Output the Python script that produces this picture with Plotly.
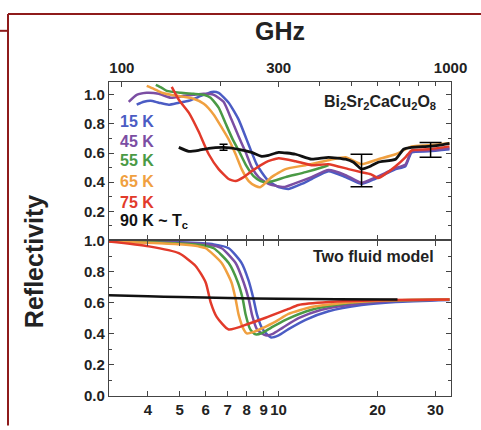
import plotly.graph_objects as go

# ---------------- data (x in cm^-1, y = reflectivity) ----------------
# Top panel: measured Bi2Sr2CaCu2O8
top_15K_x = [3.70, 3.89, 4.08, 4.32, 4.63, 4.97, 5.33, 5.71, 6.26, 6.57, 7.05, 7.56, 7.99, 8.28, 8.57, 8.88, 9.32, 10.0, 10.72, 11.75, 12.60, 14.19, 15.98, 17.88, 19.6, 21.1, 22.7, 24.3, 25.4, 28.6, 33.1]
top_15K_y = [0.932, 0.952, 0.959, 0.946, 0.932, 0.946, 0.959, 0.986, 1.020, 1.014, 0.946, 0.830, 0.694, 0.605, 0.524, 0.469, 0.408, 0.367, 0.354, 0.388, 0.422, 0.476, 0.435, 0.388, 0.422, 0.456, 0.490, 0.510, 0.605, 0.612, 0.626]

top_45K_x = [3.50, 3.70, 3.97, 4.32, 4.70, 5.14, 5.51, 5.92, 6.35, 6.80, 7.19, 7.56, 7.94, 8.28, 8.69, 9.32, 10.36, 11.26, 12.60, 14.19, 15.98, 17.88, 19.6, 21.1, 22.7, 24.3, 25.4, 28.6, 33.1]
top_45K_y = [0.952, 1.000, 1.014, 1.007, 0.980, 0.993, 1.000, 1.007, 1.000, 0.952, 0.830, 0.714, 0.605, 0.503, 0.435, 0.388, 0.367, 0.394, 0.435, 0.483, 0.449, 0.395, 0.430, 0.463, 0.497, 0.520, 0.612, 0.619, 0.633]

top_55K_x = [4.23, 4.41, 4.57, 5.04, 5.51, 5.92, 6.21, 6.57, 6.90, 7.25, 7.61, 7.99, 8.39, 8.82, 9.32, 10.50, 12.08, 13.90, 14.19]
top_55K_y = [1.068, 1.048, 1.027, 1.014, 1.007, 1.000, 0.980, 0.912, 0.803, 0.694, 0.605, 0.510, 0.442, 0.408, 0.401, 0.435, 0.469, 0.510, 0.517]

top_65K_x = [3.97, 4.17, 4.41, 4.70, 5.14, 5.51, 5.92, 6.35, 6.71, 7.05, 7.40, 7.72, 8.11, 8.51, 8.82, 9.52, 10.50, 12.08, 14.19, 15.98, 17.88, 20.1, 22.7, 25.4, 28.6, 33.1]
top_65K_y = [1.061, 1.041, 1.014, 1.000, 0.986, 0.973, 0.939, 0.864, 0.776, 0.694, 0.592, 0.490, 0.408, 0.374, 0.367, 0.435, 0.490, 0.517, 0.551, 0.571, 0.524, 0.558, 0.592, 0.646, 0.653, 0.667]

top_75K_x = [4.73, 4.97, 5.33, 5.71, 6.13, 6.57, 7.05, 7.40, 7.83, 8.28, 9.13, 10.0, 11.26, 12.60, 14.19, 16.32, 17.88, 19.04, 20.1, 21.1, 22.7, 24.3, 25.4, 28.6, 33.1]
top_75K_y = [1.054, 0.966, 0.878, 0.748, 0.592, 0.490, 0.422, 0.408, 0.435, 0.476, 0.537, 0.565, 0.544, 0.517, 0.524, 0.490, 0.469, 0.456, 0.429, 0.456, 0.510, 0.571, 0.619, 0.626, 0.646]

top_90K_x = [4.97, 5.33, 5.71, 6.13, 6.80, 7.56, 8.28, 8.88, 9.32, 10.0, 11.26, 12.60, 14.19, 15.98, 16.9, 17.88, 19.04, 20.1, 22.7, 24.0, 25.4, 28.6, 30.6, 33.1]
top_90K_y = [0.639, 0.612, 0.619, 0.633, 0.639, 0.626, 0.605, 0.578, 0.585, 0.605, 0.592, 0.558, 0.571, 0.558, 0.537, 0.490, 0.510, 0.537, 0.558, 0.626, 0.639, 0.646, 0.653, 0.667]

# error bars on the 90 K curve
err_x = [6.80, 17.88, 29.0]
err_y = [0.640, 0.480, 0.622]
err_d = [0.020, 0.112, 0.051]

# Bottom panel: two fluid model
mod_15K_x = [3.02, 4.0, 5.0, 6.35, 7.05, 7.72, 8.11, 8.39, 8.6, 8.95, 9.46, 10.0, 10.72, 12.08, 14.19, 17.88, 22.7, 33.1]
mod_15K_y = [0.994, 0.992, 0.988, 0.975, 0.950, 0.855, 0.740, 0.623, 0.522, 0.428, 0.377, 0.390, 0.430, 0.490, 0.545, 0.585, 0.605, 0.618]

mod_45K_x = [3.02, 4.0, 5.0, 6.13, 6.71, 7.4, 7.83, 8.11, 8.30, 8.6, 9.13, 9.6, 10.3, 11.5, 13.5, 17.0, 22.0, 33.1]
mod_45K_y = [0.994, 0.990, 0.985, 0.972, 0.950, 0.855, 0.730, 0.623, 0.522, 0.428, 0.390, 0.400, 0.440, 0.500, 0.555, 0.590, 0.610, 0.620]

mod_55K_x = [3.02, 4.0, 5.0, 5.92, 6.35, 7.05, 7.52, 7.78, 7.94, 8.20, 8.51, 8.9, 9.5, 10.5, 12.6, 15.98, 20.1, 33.1]
mod_55K_y = [0.994, 0.988, 0.980, 0.968, 0.950, 0.855, 0.730, 0.623, 0.522, 0.428, 0.396, 0.405, 0.440, 0.490, 0.555, 0.595, 0.612, 0.620]

mod_65K_x = [3.02, 4.0, 5.0, 5.71, 6.00, 6.71, 7.19, 7.40, 7.56, 7.83, 7.99, 8.4, 8.88, 9.79, 10.72, 12.6, 15.98, 20.1, 33.1]
mod_65K_y = [0.994, 0.985, 0.975, 0.962, 0.950, 0.855, 0.730, 0.623, 0.522, 0.428, 0.403, 0.412, 0.434, 0.478, 0.528, 0.572, 0.600, 0.613, 0.620]

mod_75K_x = [3.02, 4.03, 4.97, 5.59, 6.00, 6.21, 6.48, 7.05, 8.11, 9.13, 10.72, 11.50, 14.19, 20.1, 33.1]
mod_75K_y = [0.994, 0.962, 0.918, 0.836, 0.730, 0.604, 0.509, 0.428, 0.465, 0.503, 0.560, 0.585, 0.604, 0.616, 0.620]

mod_90K_x = [3.02, 4.0, 5.0, 7.0, 10.0, 15.0, 23.0]
mod_90K_y = [0.648, 0.642, 0.636, 0.630, 0.625, 0.622, 0.620]

labels = ["15 K", "45 K", "55 K", "65 K", "75 K", "90 K ~ T<sub>c</sub>"]
colors = ["#4b5cc4", "#7b4ea3", "#4a9a45", "#f0a040", "#e23a2a", "#111111"]

top_x = [top_15K_x, top_45K_x, top_55K_x, top_65K_x, top_75K_x, top_90K_x]
top_y = [top_15K_y, top_45K_y, top_55K_y, top_65K_y, top_75K_y, top_90K_y]
mod_x = [mod_15K_x, mod_45K_x, mod_55K_x, mod_65K_x, mod_75K_x, mod_90K_x]
mod_y = [mod_15K_y, mod_45K_y, mod_55K_y, mod_65K_y, mod_75K_y, mod_90K_y]

ghz_major = [100, 300, 1000]
ghz_minor = [200, 400, 500, 600, 700, 800, 900]
cm_ticks = [4, 5, 6, 7, 8, 9, 10, 20, 30]
GHZ_PER_CM = 29.98

FONT = "Arial, 'Liberation Sans', Helvetica, sans-serif"
AX = "#444444"

fig = go.Figure()

for xs, ys, c in zip(mod_x, mod_y, colors):
    fig.add_trace(go.Scatter(x=xs, y=ys, mode="lines", xaxis="x", yaxis="y",
                             line=dict(color=c, width=2.5, shape="spline", smoothing=0.6),
                             showlegend=False, hoverinfo="skip"))

for xs, ys, c in zip(top_x, top_y, colors):
    w = 2.8 if c == "#111111" else 2.5
    fig.add_trace(go.Scatter(x=xs, y=ys, mode="lines", xaxis="x2", yaxis="y2",
                             line=dict(color=c, width=w, shape="spline", smoothing=0.5),
                             showlegend=False, hoverinfo="skip"))

# error bars
fig.add_trace(go.Scatter(x=err_x[:1], y=err_y[:1], mode="markers", xaxis="x2", yaxis="y2",
                         marker=dict(size=1, color="black"),
                         error_y=dict(type="data", array=err_d[:1], color="black", thickness=1.5, width=4),
                         showlegend=False, hoverinfo="skip"))
fig.add_trace(go.Scatter(x=err_x[1:], y=err_y[1:], mode="markers", xaxis="x2", yaxis="y2",
                         marker=dict(size=1, color="black"),
                         error_y=dict(type="data", array=err_d[1:], color="black", thickness=1.5, width=11),
                         showlegend=False, hoverinfo="skip"))

# trace for the GHz axis on top
fig.add_trace(go.Scatter(x=[], y=[], xaxis="x3", yaxis="y2", showlegend=False))

tickfont = dict(family=FONT, size=15, color="#222", weight="bold")
xrange = [0.484, 1.5245]
common = dict(type="log", range=xrange, showline=True, linecolor=AX, linewidth=1.3,
              ticks="inside", ticklen=5, tickwidth=1.2, tickcolor=AX,
              showgrid=False, zeroline=False, tickfont=tickfont)

ycommon = dict(showline=True, linecolor=AX, linewidth=1.3, ticks="inside", ticklen=5,
               tickwidth=1.2, tickcolor=AX, showgrid=False, zeroline=False,
               tickfont=tickfont, mirror="ticks",
               minor=dict(tickvals=[0.1, 0.3, 0.5, 0.7, 0.9], ticklen=3, ticks="inside",
                          tickcolor=AX, tickwidth=1.2))

split = 158 / 319

fig.update_layout(
    width=481, height=430,
    margin=dict(l=109, r=30, t=82, b=29),
    paper_bgcolor="white", plot_bgcolor="white",
    font=dict(family=FONT, color="#222"),
    xaxis=dict(common, anchor="y", tickmode="array", tickvals=cm_ticks,
               ticktext=[str(v) for v in cm_ticks], mirror="ticks"),
    xaxis2=dict(common, anchor="y2", tickmode="array", tickvals=[],
                showticklabels=False,
                minor=dict(tickvals=cm_ticks, ticklen=5, ticks="inside",
                           tickcolor=AX, tickwidth=1.2)),
    xaxis3=dict(common, anchor="y2", overlaying="x2", side="top", tickmode="array",
                tickvals=[g / GHZ_PER_CM for g in ghz_major],
                ticktext=[str(g) for g in ghz_major], ticklabelstandoff=2,
                minor=dict(tickvals=[g / GHZ_PER_CM for g in ghz_minor], ticklen=4,
                           ticks="inside", tickcolor=AX, tickwidth=1.2)),
    yaxis=dict(ycommon, domain=[0, split], range=[0, 1.0], tickmode="array",
               tickvals=[0, 0.2, 0.4, 0.6, 0.8, 1.0],
               ticktext=["0.0", "0.2", "0.4", "0.6", "0.8", "1.0"], anchor="x"),
    yaxis2=dict(ycommon, domain=[split, 1], range=[0, 1.088], tickmode="array",
                tickvals=[0.2, 0.4, 0.6, 0.8, 1.0],
                ticktext=["0.2", "0.4", "0.6", "0.8", "1.0"], anchor="x2"),
)

def px(xp):
    return (xp - 109) / 342

def py(yp):
    return (401 - yp) / 319

legend_y = [122, 142, 162, 183, 204, 224]
for lab, c, yy in zip(labels, colors, legend_y):
    fig.add_annotation(text=lab, x=px(118), y=py(yy), xref="paper", yref="paper",
                       xanchor="left", yanchor="middle", showarrow=False,
                       font=dict(family=FONT, size=16, color=c, weight="bold"))

fig.add_annotation(text="Bi<sub>2</sub>Sr<sub>2</sub>CaCu<sub>2</sub>O<sub>8</sub>",
                   x=px(438), y=py(103), xref="paper", yref="paper", xanchor="right",
                   yanchor="middle", showarrow=False,
                   font=dict(family=FONT, size=16, color="#222", weight="bold"))
fig.add_annotation(text="Two fluid model", x=px(436), y=py(259), xref="paper", yref="paper",
                   xanchor="right", yanchor="middle", showarrow=False,
                   font=dict(family=FONT, size=16, color="#222", weight="bold"))
fig.add_annotation(text="GHz", x=px(280), y=py(30), xref="paper", yref="paper",
                   xanchor="center", yanchor="middle", showarrow=False,
                   font=dict(family=FONT, size=25, color="#222", weight="bold"))
fig.add_annotation(text="Reflectivity", x=px(34), y=py(265), xref="paper", yref="paper",
                   xanchor="center", yanchor="middle", showarrow=False, textangle=-90,
                   font=dict(family=FONT, size=25, color="#222", weight="bold"))

FRAME = "#8e1b1b"
fig.add_shape(type="line", xref="paper", yref="paper", x0=px(8), x1=px(481), y0=py(13), y1=py(13),
              line=dict(color=FRAME, width=2))
fig.add_shape(type="line", xref="paper", yref="paper", x0=px(8), x1=px(8), y0=py(13), y1=py(431),
              line=dict(color=FRAME, width=2))
fig.add_shape(type="line", xref="paper", yref="paper", x0=px(0), x1=px(8), y0=py(30), y1=py(30),
              line=dict(color=FRAME, width=2))

fig.write_html("out.html")
